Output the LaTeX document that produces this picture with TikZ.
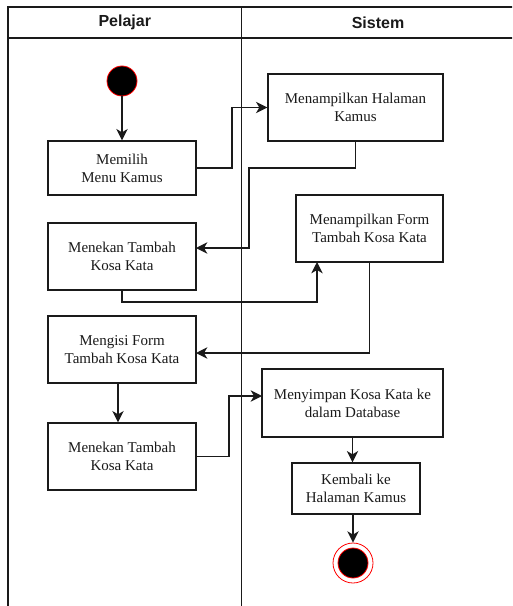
\documentclass[tikz,border=0pt]{standalone}
\usepackage{fontspec}
\setmainfont{Liberation Serif}
\newfontfamily\hdrfont{Liberation Sans}
\usetikzlibrary{arrows.meta}
\definecolor{ink}{HTML}{1A1A1A}
\begin{document}
\begin{tikzpicture}[x=0.75pt,y=-0.75pt,
  lane/.style={draw=ink,line width=1.4pt},
  hdr/.style={font=\hdrfont\bfseries\fontsize{12}{14}\selectfont,text=ink},
  act/.style={draw=ink,line width=1pt,fill=white,align=center,inner sep=2pt,
    font=\fontsize{11.25}{13.5}\selectfont,text=ink},
  flow/.style={draw=ink,line width=1pt,-{Stealth[length=8.5pt,width=8.5pt,inset=2.5pt]}},
  startnode/.style={circle,fill=black,draw=red,line width=0.6pt,minimum size=22.5pt,inner sep=0pt},
  endring/.style={circle,fill=white,draw=red,line width=0.6pt,minimum size=30pt,inner sep=0pt},
  enddot/.style={circle,fill=black,draw=red,line width=0.6pt,minimum size=22.5pt,inner sep=0pt}]
\useasboundingbox (0,0) rectangle (512,606);

% swimlane frame
\begin{scope}
  \clip (0,0) rectangle (512,606);
  \draw[lane] (8,612) -- (8,7) -- (520,7);
  \draw[lane] (8,38) -- (520,38);
  \draw[lane] (241.5,7) -- (241.5,612);
\end{scope}
\node[hdr] (hpel) at (124.75,22.5) {Pelajar};
\node[hdr] (hsis) at (378,22.5) {Sistem};

% activities
\node[startnode] (start) at (122,81) {};
\node[act,minimum width=111pt,minimum height=40.5pt] (memilih) at (122,168) {Memilih\\Menu Kamus};
\node[act,minimum width=111pt,minimum height=50.25pt] (tekan1) at (122,256.5) {Menekan Tambah\\Kosa Kata};
\node[act,minimum width=111pt,minimum height=50.25pt] (isi) at (122,349.5) {Mengisi Form\\Tambah Kosa Kata};
\node[act,minimum width=111pt,minimum height=50.25pt] (tekan2) at (122,456.5) {Menekan Tambah\\Kosa Kata};
\node[act,minimum width=131.25pt,minimum height=50.25pt] (halaman) at (355.5,107.5) {Menampilkan Halaman\\Kamus};
\node[act,minimum width=110.25pt,minimum height=50.25pt] (form) at (369.5,228.5) {Menampilkan Form\\Tambah Kosa Kata};
\node[act,minimum width=135.75pt,minimum height=51pt] (simpan) at (352.5,403) {Menyimpan Kosa Kata ke\\dalam Database};
\node[act,minimum width=96pt,minimum height=38.25pt] (kembali) at (356,488.5) {Kembali ke\\Halaman Kamus};
\node[endring] (final) at (353,563) {};
\node[enddot] (finaldot) at (final) {};

% routing points
\coordinate (b1) at (232,0);
\coordinate (h1) at (249,168);
\coordinate (h2) at (196,248);
\coordinate (r3) at (317,302);
\coordinate (f1) at (317,262);
\coordinate (m1) at (196,353);
\coordinate (b4) at (229,0);
\coordinate (s1) at (262,396);

% control flow
\draw[flow] (start) -- (memilih);
\draw[flow] (memilih.east) -- (memilih.east -| b1) |- (halaman.west);
\draw[flow] (halaman.south) |- (h1) |- (h2);
\draw[flow] (tekan1.south) |- (r3) -- (f1);
\draw[flow] (form.south) |- (m1);
\draw[flow] ([xshift=-3pt]isi.south) -- ([xshift=-3pt]tekan2.north);
\draw[flow] (tekan2.east) -- (tekan2.east -| b4) |- (s1);
\draw[flow] (simpan.south) -- (simpan.south |- kembali.north);
\draw[flow] (kembali.south -| final) -- (final.north);
\end{tikzpicture}
\end{document}
